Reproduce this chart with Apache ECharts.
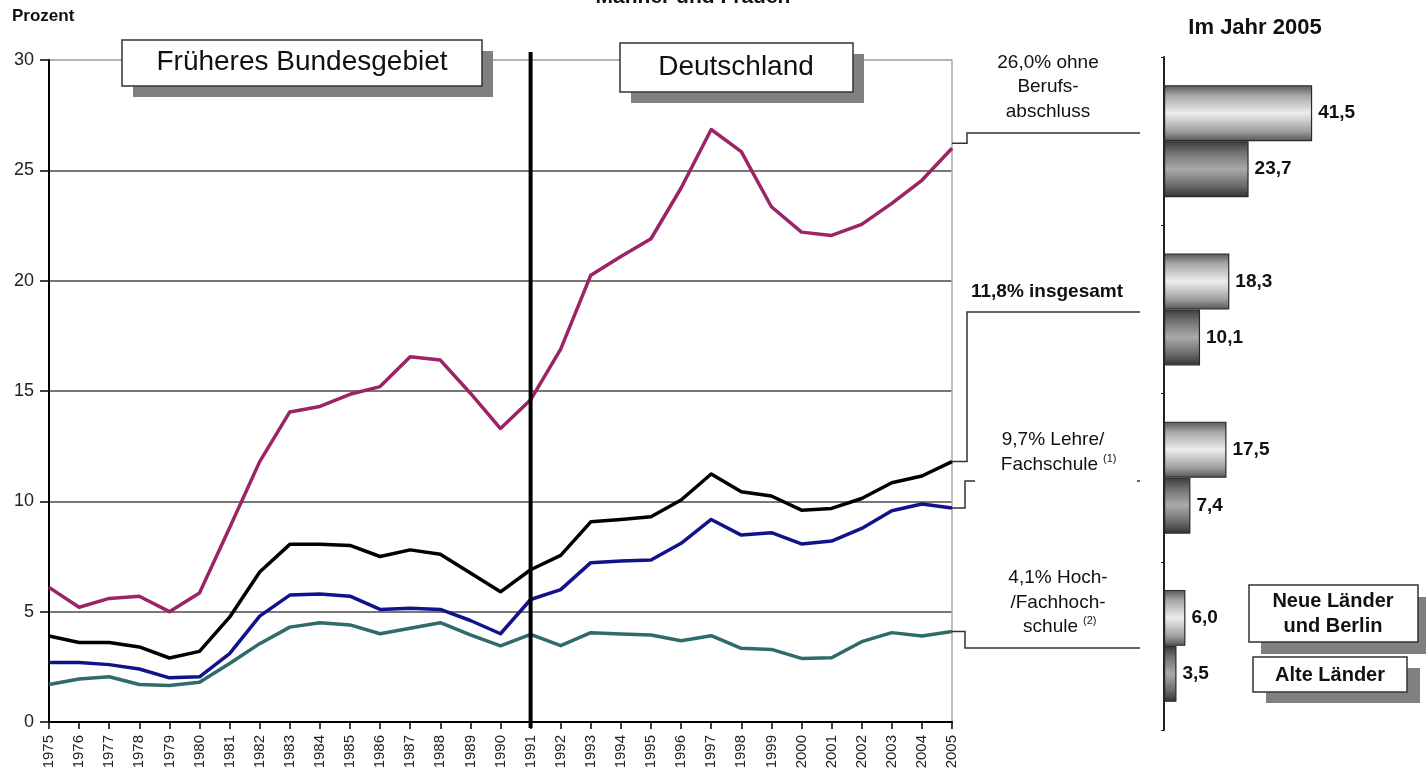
<!DOCTYPE html>
<html>
<head>
<meta charset="utf-8">
<script src="https://cdn.jsdelivr.net/npm/echarts@6/dist/echarts.min.js"></script>
<style>
html,body{margin:0;padding:0;background:#fff;}
#main{width:1426px;height:775px;}
</style>
</head>
<body>
<div id="main"></div>
<script>
// ---- data ----
const years = ['1975','1976','1977','1978','1979','1980','1981','1982','1983','1984','1985','1986','1987','1988','1989','1990','1991','1992','1993','1994','1995','1996','1997','1998','1999','2000','2001','2002','2003','2004','2005'];
const ohneBerufsabschluss = [6.1,5.2,5.6,5.7,5.0,5.85,8.8,11.8,14.05,14.3,14.85,15.2,16.55,16.4,14.9,13.3,14.6,16.9,20.25,21.1,21.9,24.2,26.85,25.85,23.35,22.2,22.05,22.55,23.5,24.55,26.0];
const insgesamt = [3.9,3.6,3.6,3.4,2.9,3.2,4.75,6.8,8.05,8.05,8.0,7.5,7.8,7.6,6.75,5.9,6.9,7.55,9.07,9.18,9.3,10.06,11.24,10.43,10.24,9.6,9.68,10.13,10.84,11.15,11.8];
const lehreFachschule = [2.7,2.7,2.6,2.4,2.0,2.05,3.1,4.8,5.75,5.8,5.7,5.1,5.15,5.1,4.6,4.0,5.55,6.0,7.22,7.3,7.34,8.1,9.18,8.47,8.58,8.07,8.2,8.77,9.57,9.88,9.7];
const hochFachhochschule = [1.7,1.95,2.05,1.7,1.65,1.8,2.65,3.55,4.3,4.5,4.4,4.0,4.25,4.5,3.95,3.45,3.97,3.46,4.05,3.99,3.94,3.68,3.91,3.34,3.29,2.88,2.91,3.64,4.05,3.9,4.1];
const yTicks = [0,5,10,15,20,25,30];
const dividerYear = '1991';

const barCategories = ['ohne Berufsabschluss','insgesamt','Lehre/Fachschule','Hoch-/Fachhochschule'];
const neueLaender = [41.5,18.3,17.5,6.0];
const alteLaender = [23.7,10.1,7.4,3.5];

// ---- chart ----
const FONT = '"Liberation Sans", Arial, sans-serif';
const chart = echarts.init(document.getElementById('main'));

const lightGrad = {type:'linear',x:0,y:0,x2:0,y2:1,colorStops:[
  {offset:0,color:'#555'},{offset:0.18,color:'#a5a5a5'},{offset:0.5,color:'#ededed'},{offset:0.82,color:'#a0a0a0'},{offset:1,color:'#555'}]};
const darkGrad = {type:'linear',x:0,y:0,x2:0,y2:1,colorStops:[
  {offset:0,color:'#3a3a3a'},{offset:0.2,color:'#707070'},{offset:0.5,color:'#aaaaaa'},{offset:0.8,color:'#6a6a6a'},{offset:1,color:'#333'}]};

function lineSeries(name, data, color){
  return {type:'line', name, data, xAxisIndex:0, yAxisIndex:0, symbol:'none',
    lineStyle:{color, width:3.5, join:'round'}, z:5, animation:false};
}
const fmt = p => p.value.toFixed(1).replace('.', ',');

chart.setOption({
  animation:false,
  textStyle:{fontFamily:FONT},
  grid:[
    {left:49, right:474, top:60, bottom:53},
    {left:1164, right:83.5, top:57, bottom:45}
  ],
  xAxis:[
    {type:'category', gridIndex:0, data:years, boundaryGap:false,
     axisLine:{lineStyle:{color:'#000', width:2}},
     axisTick:{show:true, length:7, interval:0, lineStyle:{color:'#000', width:1.5}},
     axisLabel:{rotate:90, interval:0, fontSize:15, color:'#222', margin:13, fontFamily:FONT},
     splitLine:{show:false}},
    {type:'value', gridIndex:1, min:0, max:50, show:false}
  ],
  yAxis:[
    {type:'value', gridIndex:0, min:0, max:30, interval:5,
     axisLine:{show:true, lineStyle:{color:'#000', width:2}},
     axisTick:{show:true, length:9, lineStyle:{color:'#000', width:1.5}},
     axisLabel:{fontSize:18, color:'#222', margin:15, fontFamily:FONT},
     splitLine:{show:true, lineStyle:{color:['#4a4a4a','#4a4a4a','#4a4a4a','#4a4a4a','#4a4a4a','#4a4a4a','#9a9a9a'], width:1.5}}},
    {type:'value', gridIndex:0, min:0, max:30, position:'right',
     axisLine:{show:true, lineStyle:{color:'#a8a8a8', width:1.5}},
     axisTick:{show:false}, axisLabel:{show:false}, splitLine:{show:false}},
    {type:'category', gridIndex:1, data:barCategories, inverse:true,
     axisLine:{show:true, lineStyle:{color:'#222', width:2}},
     axisTick:{show:true, length:3, lineStyle:{color:'#222'}},
     axisLabel:{show:false}}
  ],
  series:[
    lineSeries('Hoch-/Fachhochschule', hochFachhochschule, '#2f6b68'),
    lineSeries('Lehre/Fachschule', lehreFachschule, '#12128c'),
    lineSeries('ohne Berufsabschluss', ohneBerufsabschluss, '#9c2465'),
    lineSeries('insgesamt', insgesamt, '#000000'),
    {type:'bar', name:'Neue Länder und Berlin', xAxisIndex:1, yAxisIndex:2, data:neueLaender,
     barWidth:56, barGap:'0%', itemStyle:{color:lightGrad, borderColor:'#2a2a2a', borderWidth:1.2},
     label:{show:true, position:'right', distance:6, formatter:fmt, fontSize:19, fontWeight:'bold', color:'#111', fontFamily:FONT}},
    {type:'bar', name:'Alte Länder', xAxisIndex:1, yAxisIndex:2, data:alteLaender,
     barWidth:56, barGap:'0%', itemStyle:{color:darkGrad, borderColor:'#2a2a2a', borderWidth:1.2},
     label:{show:true, position:'right', distance:6, formatter:fmt, fontSize:19, fontWeight:'bold', color:'#111', fontFamily:FONT}}
  ]
});

// ---- annotations computed from the axes ----
const P = (yearIdx, v) => chart.convertToPixel({gridIndex:0}, [years[yearIdx], v]);
const last = years.length - 1;
const endPurple = P(last, ohneBerufsabschluss[last]);
const endBlack = P(last, insgesamt[last]);
const endBlue = P(last, lehreFachschule[last]);
const endTeal = P(last, hochFachhochschule[last]);
const divX = chart.convertToPixel({xAxisIndex:0}, dividerYear);
const yTop = chart.convertToPixel({yAxisIndex:0}, 30);
const yBot = chart.convertToPixel({yAxisIndex:0}, 0);

const conn = pts => ({type:'polyline', z:50, shape:{points:pts}, style:{stroke:'#333', lineWidth:1.5, fill:null}});
const txt = (text, x, y, size, bold, align) => ({type:'text', z:60, x, y,
  style:{text, fontSize:size, fontWeight:bold?'bold':'normal', fontFamily:FONT, fill:'#111', align:align||'center', verticalAlign:'middle', lineHeight:size*1.28}});
const box = (x, y, w, h, sdx, sdy) => ([
  {type:'rect', z:40, shape:{x:x+sdx, y:y+sdy, width:w, height:h}, style:{fill:'#808080'}},
  {type:'rect', z:41, shape:{x, y, width:w, height:h}, style:{fill:'#fff', stroke:'#333', lineWidth:1.5}}
]);

const g = [];
// divider line
g.push({type:'line', z:45, shape:{x1:divX, y1:yTop-8, x2:divX, y2:yBot+6}, style:{stroke:'#000', lineWidth:4}});
// region boxes
g.push(...box(122, 40, 360, 46, 11, 11));
g.push(txt('Früheres Bundesgebiet', 302, 62, 28, false));
g.push(...box(620, 43, 233, 49, 11, 11));
g.push(txt('Deutschland', 736, 67, 28, false));
// top texts
g.push(txt('Prozent', 12, 16, 17, true, 'left'));
g.push(txt('Männer und Frauen', 693, -3, 21, true));
g.push(txt('Im Jahr 2005', 1255, 28, 22, true));
// connectors
g.push(conn([[endPurple[0], endPurple[1]-5], [967, endPurple[1]-5], [967, 133], [1140, 133]]));
g.push(conn([[endBlack[0], endBlack[1]], [967, endBlack[1]], [967, 312], [1140, 312]]));
g.push(conn([[endBlue[0], endBlue[1]], [965, endBlue[1]], [965, 481], [975, 481]]));
g.push(conn([[1137, 481], [1140, 481]]));
g.push(conn([[endTeal[0], endTeal[1]], [965, endTeal[1]], [965, 648], [1140, 648]]));
// annotation texts
g.push(txt('26,0% ohne\nBerufs-\nabschluss', 1048, 87, 19, false));
g.push(txt('11,8% insgesamt', 1047, 292, 19, true));
g.push(txt('9,7% Lehre/', 1053, 440, 19, false));
g.push(txt('Fachschule', 1098, 465, 19, false, 'right'));
g.push(txt('(1)', 1103, 459, 11, false, 'left'));
g.push(txt('4,1% Hoch-', 1058, 578, 19, false));
g.push(txt('/Fachhoch-', 1058, 603, 19, false));
g.push(txt('schule', 1078, 627, 19, false, 'right'));
g.push(txt('(2)', 1083, 621, 11, false, 'left'));
// legend boxes
g.push(...box(1249, 585, 169, 57, 12, 12));
g.push(txt('Neue Länder\nund Berlin', 1333, 614, 20, true));
g.push(...box(1253, 657, 154, 35, 13, 11));
g.push(txt('Alte Länder', 1330, 675, 20, true));

chart.setOption({graphic: g});
</script>
</body>
</html>
